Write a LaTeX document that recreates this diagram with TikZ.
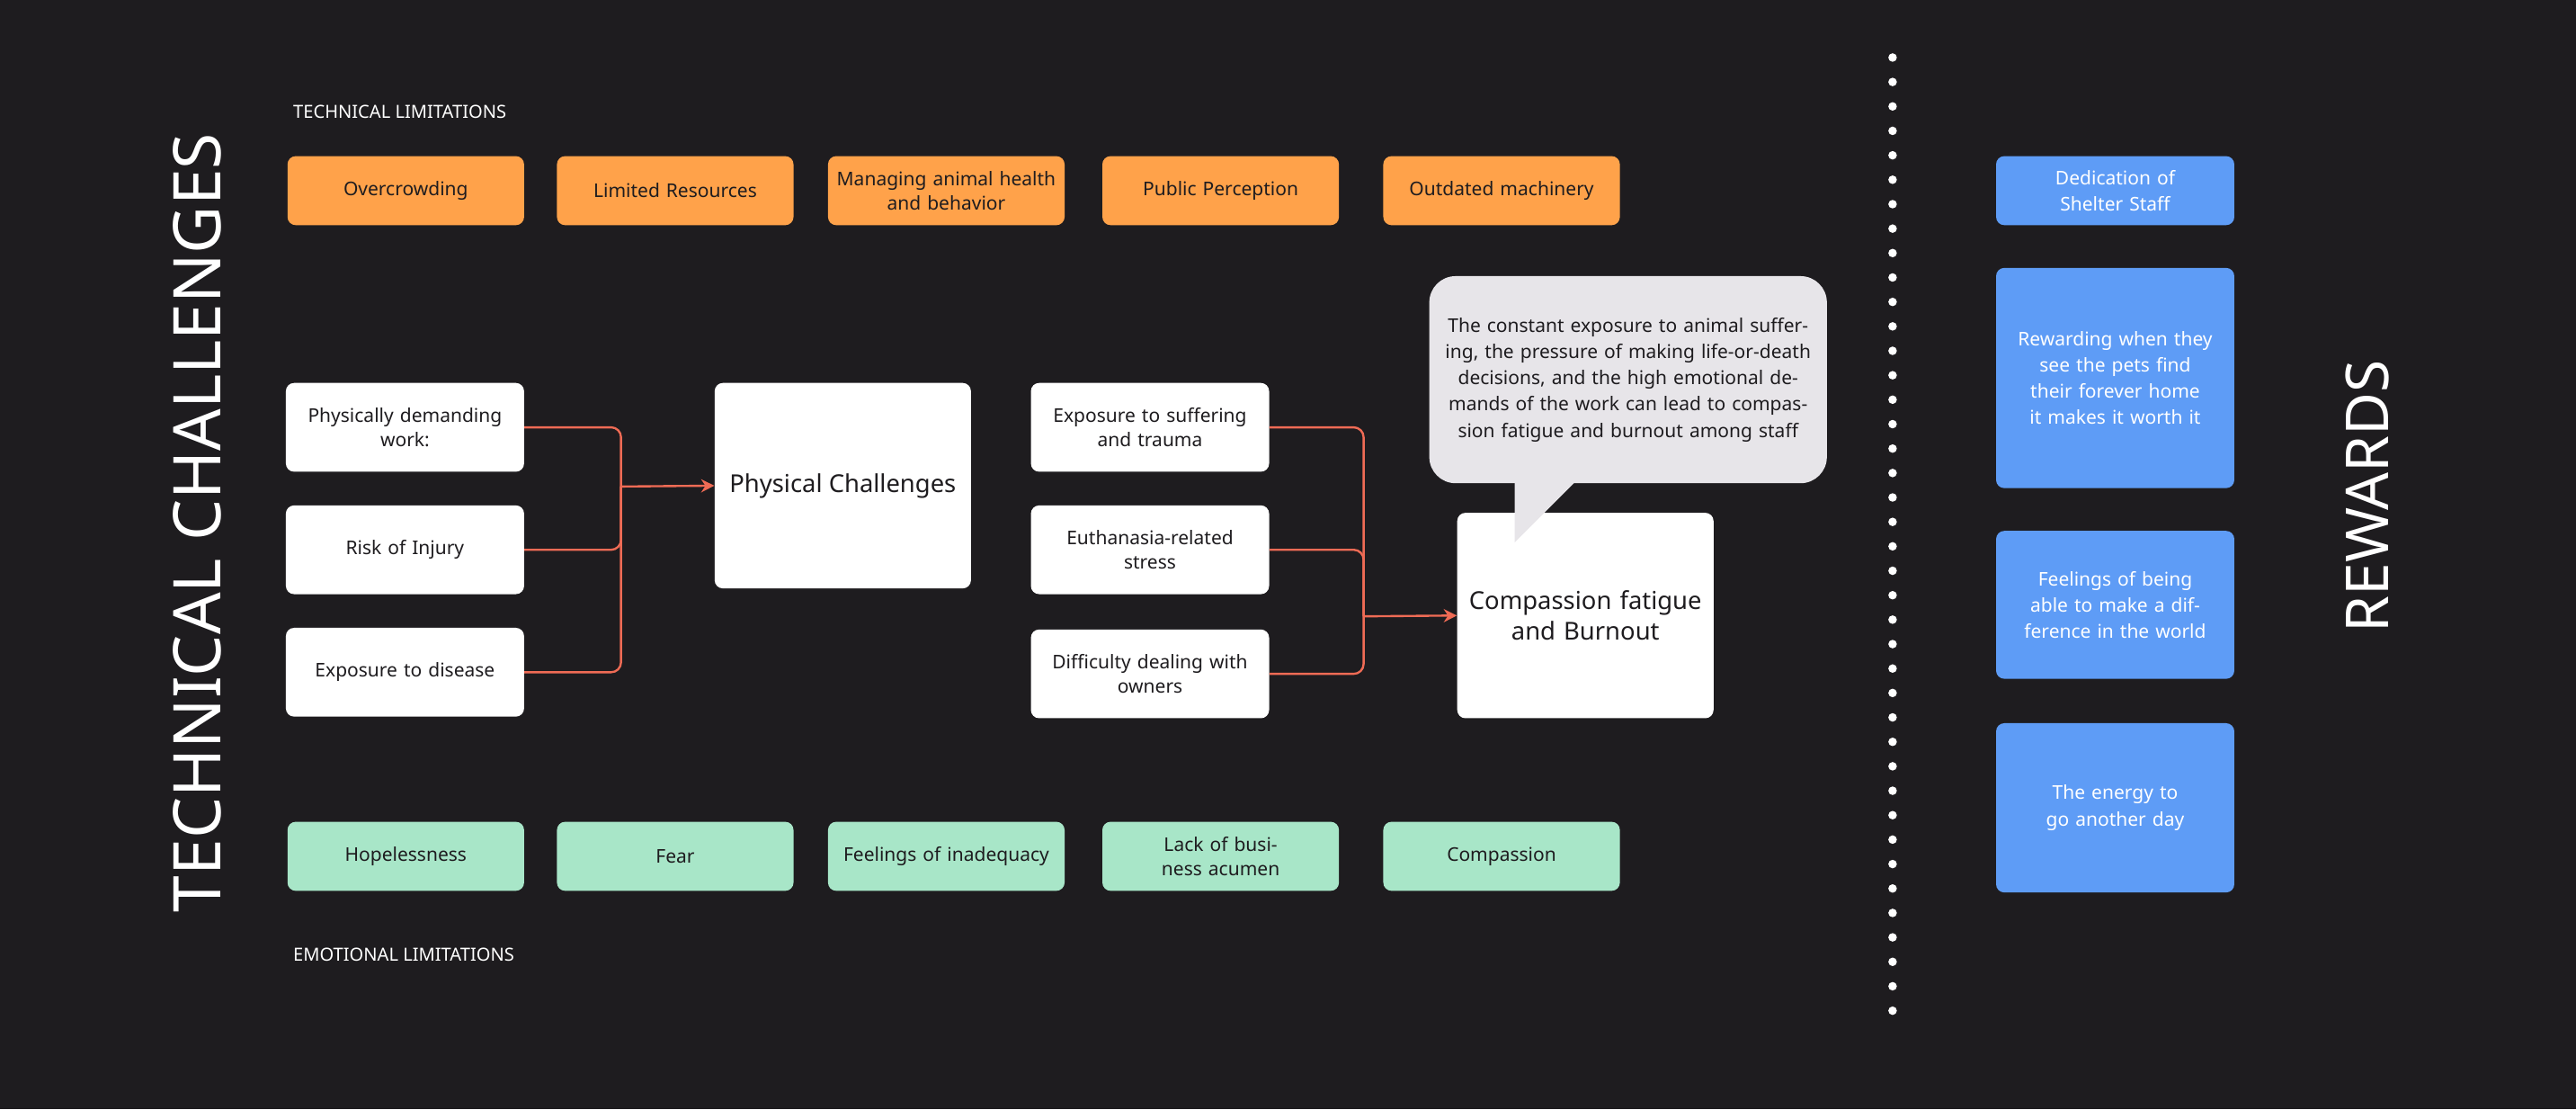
\documentclass[tikz,border=0pt]{standalone}
\usepackage{fontspec}
\setmainfont{Noto Sans}
\usetikzlibrary{arrows.meta}
\definecolor{bg}{HTML}{1E1C1F}
\definecolor{org}{HTML}{FFA24A}
\definecolor{grn}{HTML}{A8E6C8}
\definecolor{blu}{HTML}{5E9CF6}
\definecolor{coral}{HTML}{EF6B55}
\definecolor{callg}{HTML}{E7E5E9}
\definecolor{txt}{HTML}{1E1C1F}
\begin{document}
\begin{tikzpicture}[x=1pt,y=-1pt,
 box/.style={rounded corners=5pt,align=center,font=\fontsize{11.5}{15}\selectfont,text=txt,inner sep=3pt},
 lim/.style={box,minimum width=144pt,minimum height=42pt,text width=136pt},
 wb/.style={box,fill=white,minimum width=145pt,minimum height=54pt,text width=135pt},
 bb/.style={box,fill=blu,text=white,minimum width=145pt,text width=130pt,font=\bfseries\fontsize{11.5}{16}\selectfont},
 lbl/.style={text=white,anchor=west,font=\fontsize{11}{13}\selectfont},
 con/.style={coral,line width=1.3pt,rounded corners=6pt},
 arr/.style={coral,line width=1.3pt,-{Stealth[length=8pt,width=8pt]}}]
\fill[bg] (0,0) rectangle (1568,675);
\useasboundingbox (0,0) rectangle (1568,675);
\node[lbl] (tl) at (175,68) {TECHNICAL LIMITATIONS};
\node[lbl] (el) at (175,581) {EMOTIONAL LIMITATIONS};
\foreach \n/\x/\t in {o1/247/Overcrowding,o2/411/Limited Resources,o3/576/{Managing animal health\\and behavior},o4/743/Public Perception,o5/914/Outdated machinery}
  \node[lim,fill=org] (\n) at (\x,116) {\t};
\foreach \n/\x/\t in {g1/247/Hopelessness,g2/411/Fear,g3/576/Feelings of inadequacy,g4/743/Lack of business acumen,g5/914/Compassion}
  \node[lim,fill=grn] (\n) at (\x,521) {\t};
\node[wb] (a1) at (246.5,260) {Physically demanding\\work:};
\node[wb] (a2) at (246.5,334.5) {Risk of Injury};
\node[wb] (a3) at (246.5,409) {Exposure to disease};
\node[box,fill=white,minimum width=156pt,minimum height=125pt,font=\fontsize{15}{19}\selectfont] (pc) at (513,295.5) {Physical Challenges};
\node[wb] (m1) at (700,260) {Exposure to suffering\\and trauma};
\node[wb] (m2) at (700,334.5) {Euthanasia-related\\stress};
\node[wb] (m3) at (700,410) {Difficulty dealing with\\owners};
\node[box,fill=white,minimum width=156pt,minimum height=125pt,text width=150pt,font=\fontsize{15}{19}\selectfont] (cf) at (965,374.5) {Compassion fatigue\\and Burnout};
\fill[callg] (922,290) -- (922,330) -- (962,290) -- cycle;
\node[box,fill=callg,rounded corners=16pt,minimum width=242pt,minimum height=126pt,text width=232pt,font=\fontsize{11.5}{16}\selectfont] (co) at (991,231) {The constant exposure to animal suffering, the pressure of making life-or-death decisions, and the high emotional demands of the work can lead to compassion fatigue and burnout among staff};
\coordinate (j1) at (378,296);
\coordinate (j2) at (830,375);
\foreach \s in {a1,a2,a3} \draw[con] (\s.east) -| (j1);
\draw[arr] (j1) -- (pc.west);
\foreach \s in {m1,m2,m3} \draw[con] (\s.east) -| (j2);
\draw[arr] (j2) -- (cf.west);
\node[text=white,rotate=90,font=\fontsize{40}{44}\selectfont] (tc) at (120,318) {TECHNICAL CHALLENGES};
\node[text=white,rotate=90,font=\fontsize{36}{40}\selectfont] (rw) at (1441,302) {REWARDS};
\foreach \i in {0,...,39} \fill[white] (1152,35+\i*14.87) circle (2.6pt);
\node[bb,minimum height=42pt] (b1) at (1287.5,116) {Dedication of Shelter Staff};
\node[bb,minimum height=134pt] (b2) at (1287.5,230) {Rewarding when they see the pets find their forever home it makes it worth it};
\node[bb,minimum height=90pt] (b3) at (1287.5,368) {Feelings of being able to make a difference in the world};
\node[bb,minimum height=103pt,text width=110pt] (b4) at (1287.5,491.5) {The energy to go another day};
\end{tikzpicture}
\end{document}
